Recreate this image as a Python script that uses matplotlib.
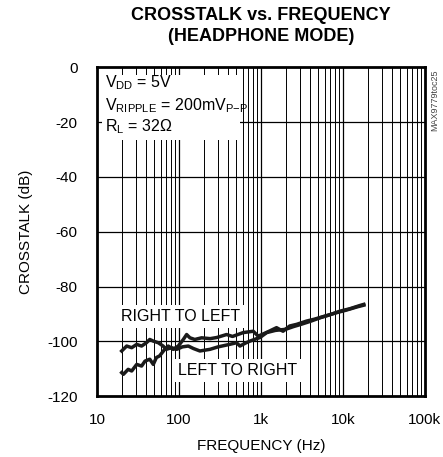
import numpy as np
import matplotlib
matplotlib.use("Agg")
import matplotlib.pyplot as plt
from matplotlib.patches import Rectangle

# data
freq_rl = [20, 23, 26.5, 30.5, 35, 40, 44, 48.6, 56, 64, 70, 81, 94, 110, 130, 150,
           180, 239, 300, 400, 504, 555, 650, 735, 850, 972, 1175, 1500, 2000,
           2500, 3000, 4000, 5260, 6940, 9180, 12150, 16200, 18000]
xtalk_rl = [-103.5, -101.7, -102.3, -101.1, -101.7, -100.5, -99.3, -99.9, -100.5,
            -101.7, -102.9, -102.3, -102.9, -102.0, -101.7, -102.6,
            -103.5, -102.9, -102.0, -101.2, -100.5, -101.7, -100.6, -99.9, -99.2,
            -98.6, -96.8, -96.0, -95.6, -94.6, -93.9, -92.7, -91.4, -90.3, -89.0,
            -88.1, -86.9, -86.5]

freq_lr = [20, 21, 24, 26.5, 30.5, 35, 38.5, 44, 48.6, 53, 58, 67, 74, 85, 98, 113,
           124, 136, 156, 189, 240, 288, 381, 450, 608, 805, 927, 1200, 1550,
           1860, 2240, 2720, 3600, 4500, 6000, 8000, 11000, 15000, 18000]
xtalk_lr = [-111.4, -112.0, -110.2, -110.8, -108.4, -109.0, -107.2, -106.5, -108.4,
            -105.9, -105.3, -102.9, -101.7, -102.9, -101.7, -99.3,
            -97.5, -98.7, -99.3, -98.7, -99.0, -98.6, -97.5, -98.2, -96.8, -96.3,
            -98.1, -96.6, -95.0, -96.3, -94.4, -93.8, -92.6, -91.9, -90.8, -89.7,
            -88.6, -87.4, -86.8]

x_ticks = [10, 100, 1000, 10000, 100000]
x_ticklabels = ["10", "100", "1k", "10k", "100k"]
y_ticks = [0, -20, -40, -60, -80, -100, -120]

plt.rcParams['font.family'] = ['Liberation Sans', 'DejaVu Sans']
plt.rcParams['mathtext.fontset'] = 'custom'
plt.rcParams['mathtext.rm'] = 'Liberation Sans'
plt.rcParams['mathtext.it'] = 'Liberation Sans'
plt.rcParams['axes.unicode_minus'] = False

fig = plt.figure(figsize=(4.43, 4.57), dpi=100)
ax = fig.add_axes([0.219, 0.133, 0.740, 0.720])

ax.set_xscale('log')
ax.set_xlim(10, 100000)
ax.set_ylim(-120, 0)

# grid
for dec in [10, 100, 1000, 10000]:
    for m in range(1, 10):
        f = dec * m
        if f > 10 and f < 100000:
            ax.axvline(f, color='black', lw=0.9 if m == 1 else 0.7, zorder=1)
for yv in y_ticks[1:-1]:
    ax.axhline(yv, color='black', lw=0.9, zorder=1)

ax.set_xticks(x_ticks)
ax.set_xticklabels(x_ticklabels)
ax.set_yticks(y_ticks)
ax.minorticks_off()
ax.tick_params(length=0, labelsize=11)
ax.tick_params(axis='x', pad=12)
ax.tick_params(axis='y', pad=14)
for sp in ax.spines.values():
    sp.set_linewidth(2)

ax.set_xlabel("FREQUENCY (Hz)", fontsize=11, labelpad=9)
ax.set_ylabel("CROSSTALK (dB)", fontsize=11, labelpad=10)

fig.text(0.589, 0.985, "CROSSTALK vs. FREQUENCY\n(HEADPHONE MODE)", ha='center',
         va='top', fontsize=13, fontweight='bold', linespacing=1.3)

# condition box
ax.add_patch(Rectangle((0.015, 0.778), 0.421, 0.198, transform=ax.transAxes,
                       facecolor='white', edgecolor='none', zorder=2))
ax.text(0.025, 0.952, r"V$_{\rm DD}$ = 5V", transform=ax.transAxes, fontsize=11.5,
        va='center', zorder=3)
ax.text(0.025, 0.884, r"V$_{\rm RIPPLE}$ = 200mV$_{\rm P{-}P}$", transform=ax.transAxes,
        fontsize=11.5, va='center', zorder=3)
ax.text(0.025, 0.818, r"R$_{\rm L}$ = 32$\Omega$", transform=ax.transAxes, fontsize=11.5,
        va='center', zorder=3)

ax.text(106, -91, "RIGHT TO LEFT", ha='center', va='center', fontsize=11.5, zorder=3,
        bbox=dict(facecolor='white', edgecolor='none', pad=3))
ax.text(517, -110.5, "LEFT TO RIGHT", ha='center', va='center', fontsize=11.5, zorder=3,
        bbox=dict(facecolor='white', edgecolor='none', pad=3))

ax.plot(freq_rl, xtalk_rl, color='#1a1a1a', lw=2.5, zorder=4)
ax.plot(freq_lr, xtalk_lr, color='#1a1a1a', lw=2.5, zorder=4)

fig.text(0.982, 0.78, "MAX9779toc25", rotation=90, ha='center', va='center',
         fontsize=6.5, color='#444444')

fig.savefig("out.png", dpi=100)
